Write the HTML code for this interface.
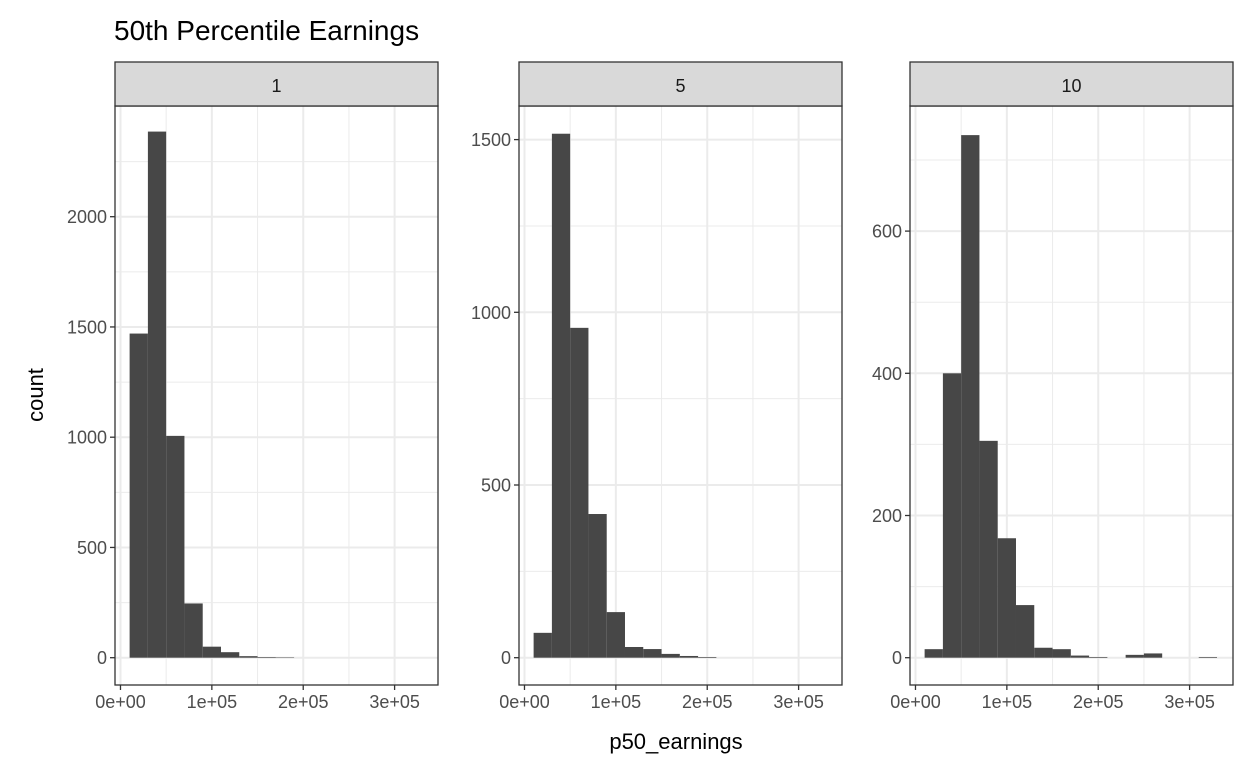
<!DOCTYPE html>
<html><head><meta charset="utf-8"><style>
body{margin:0;background:#fff;font-family:"Liberation Sans",Arial,sans-serif}
svg text{font-family:"Liberation Sans",Arial,sans-serif}
</style></head><body>
<svg id="c" width="1248" height="768" viewBox="0 0 1248 768">
<text x="114" y="40" font-size="28" fill="#000">50th Percentile Earnings</text>
<text transform="translate(43,395) rotate(-90)" font-size="22" text-anchor="middle" fill="#000">count</text>
<text x="676" y="749" font-size="22" text-anchor="middle" fill="#000">p50_earnings</text>
</svg>
<script>
const facetLabels = ["1","5","10"];
const binStarts = [10000,30000,50000,70000,90000,110000,130000,150000,170000,190000,210000,230000,250000,270000,290000,310000];
const counts1 = [1470,2386,1006,246,50,25,7,3,2,0,0,0,0,0,0,0];
const counts5 = [72,1517,955,416,132,31,25,11,5,2,0,0,0,0,0,0];
const counts10 = [12,400,735,305,168,74,14,12,3,1,0,4,6,0,0,1];
const yTicks1 = [0,500,1000,1500,2000];
const yTicks5 = [0,500,1000,1500];
const yTicks10 = [0,200,400,600];
const xTicks = [0,100000,200000,300000];
const xTickLabels = ["0e+00","1e+05","2e+05","3e+05"];

const NS="http://www.w3.org/2000/svg";
const svgRoot=document.getElementById('c');
function mk(tag,attrs,parent){const e=document.createElementNS(NS,tag);for(const k in attrs)e.setAttribute(k,attrs[k]);(parent||svgRoot).appendChild(e);return e;}
const panels=[
 {left:115,counts:counts1,ticks:yTicks1,pxPerUnit:220.5/1000},
 {left:519,counts:counts5,ticks:yTicks5,pxPerUnit:172.7/500},
 {left:910,counts:counts10,ticks:yTicks10,pxPerUnit:142.2/200}
];
const W=323,plotTop=106,plotBottom=685,y0=657.7,stripTop=62;
panels.forEach((p,i)=>{
 const g=mk('g',{});
 
 
 const xs=v=>p.left+(v+6000)*W/353500;
 const ys=v=>y0-v*p.pxPerUnit;
 for(let v=50000;v<350000;v+=100000){mk('line',{x1:xs(v),x2:xs(v),y1:plotTop,y2:plotBottom,stroke:'#ebebeb','stroke-width':1},g);}
 const step=p.ticks[1]-p.ticks[0];
 for(let v=-step/2;v<=p.ticks[p.ticks.length-1]+step;v+=step){const y=ys(v);if(y>plotTop&&y<plotBottom)mk('line',{x1:p.left,x2:p.left+W,y1:y,y2:y,stroke:'#ebebeb','stroke-width':1},g);}
 xTicks.forEach(v=>mk('line',{x1:xs(v),x2:xs(v),y1:plotTop,y2:plotBottom,stroke:'#ebebeb','stroke-width':2},g));
 p.ticks.forEach(v=>mk('line',{x1:p.left,x2:p.left+W,y1:ys(v),y2:ys(v),stroke:'#ebebeb','stroke-width':2},g));
 p.counts.forEach((c,j)=>{ if(c<=0)return;
  const x1=xs(binStarts[j]),x2=xs(binStarts[j]+20000);
  const r=mk('rect',{x:x1,y:ys(c),width:x2-x1,height:y0-ys(c),fill:'#474747'},g);
  
  
 });
 mk('rect',{x:p.left,y:plotTop,width:W,height:plotBottom-plotTop,fill:'none',stroke:'#333','stroke-width':1.3},g);
 const s=mk('rect',{x:p.left,y:stripTop,width:W,height:plotTop-stripTop,fill:'#d9d9d9',stroke:'#333','stroke-width':1.3},g);
 
 
 const st=mk('text',{x:p.left+W/2,y:92,'font-size':18,'text-anchor':'middle',fill:'#1a1a1a'},g);st.textContent=facetLabels[i];
 p.ticks.forEach(v=>{mk('line',{x1:p.left-5,x2:p.left,y1:ys(v),y2:ys(v),stroke:'#333','stroke-width':1.3},g);
  const t=mk('text',{x:p.left-8,y:ys(v)+6.5,'font-size':18,'text-anchor':'end',fill:'#4d4d4d'},g);t.textContent=v;
  
  });
 xTicks.forEach((v,k)=>{mk('line',{x1:xs(v),x2:xs(v),y1:plotBottom,y2:plotBottom+5,stroke:'#333','stroke-width':1.3},g);
  const t=mk('text',{x:xs(v),y:plotBottom+23,'font-size':18,'text-anchor':'middle',fill:'#4d4d4d'},g);t.textContent=xTickLabels[k];
  
  });
});
</script>
</body></html>
